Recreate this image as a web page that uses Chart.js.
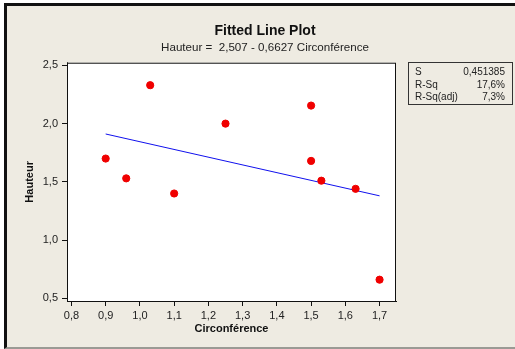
<!DOCTYPE html>
<html>
<head>
<meta charset="utf-8">
<script src="https://cdn.jsdelivr.net/npm/chart.js@4"></script>
<style>
  body { margin: 0; background: #fff; }
  #wrap { position: relative; width: 515px; height: 349px; overflow: hidden; }
  #frame {
    position: absolute; left: 4px; top: 3px; right: -4px; bottom: 0;
    background: #eeebe2;
    border-top: 3px solid #111; border-left: 3px solid #111; border-bottom: 2px solid #9a9a94;
  }
  #chart { position: absolute; left: 0; top: 0; }
  #stats {
    position: absolute; left: 408px; top: 62px; width: 103px; height: 41px;
    border: 1px solid #333; font: 10px "Liberation Sans", Arial, sans-serif; color: #222;
  }
  #stats div { display: flex; justify-content: space-between; padding: 0 7px 0 6px; height: 12.5px; line-height: 12.5px; }
  #stats div:first-child { margin-top: 3px; }
</style>
</head>
<body>
<div id="wrap">
  <div id="frame"></div>
  <canvas id="chart" width="515" height="349"></canvas>
  <div id="stats">
    <div><span>S</span><span>0,451385</span></div>
    <div><span>R-Sq</span><span>17,6%</span></div>
    <div><span>R-Sq(adj)</span><span>7,3%</span></div>
  </div>
</div>
<script>
// Data
const circonference = [0.90, 0.96, 1.03, 1.10, 1.25, 1.50, 1.50, 1.53, 1.63, 1.70];
const hauteur = [1.70, 1.53, 2.33, 1.40, 2.00, 2.155, 1.68, 1.51, 1.44, 0.66];

// Fitted line end points (Hauteur = 2,507 - 0,6627 Circonférence)
const fitX = [0.9, 1.7];
const fitY = [1.911, 1.380];

const comma = v => v.toFixed(1).replace('.', ',');
const fontName = '"Liberation Sans", Arial, sans-serif';

// white plot area with a box round it
const plotBox = {
  id: 'plotBox',
  beforeDatasetsDraw(chart) {
    const a = chart.chartArea;
    chart.ctx.save();
    chart.ctx.fillStyle = '#fff';
    chart.ctx.fillRect(a.left, a.top, a.right - a.left, a.bottom - a.top);
    chart.ctx.restore();
  },
  afterDraw(chart) {
    const a = chart.chartArea;
    const ctx = chart.ctx;
    ctx.save();
    ctx.strokeStyle = '#111';
    ctx.lineWidth = 1;
    ctx.strokeRect(a.left + 0.5, a.top + 0.5, a.right - a.left - 1, a.bottom - a.top);
    ctx.restore();
  }
};

new Chart(document.getElementById('chart'), {
  type: 'scatter',
  data: {
    datasets: [
      {
        data: circonference.map((x, i) => ({ x, y: hauteur[i] })),
        backgroundColor: '#f00000',
        borderColor: '#f00000',
        pointRadius: 3.6,
        pointHoverRadius: 3.6,
        order: 1
      },
      {
        type: 'line',
        data: fitX.map((x, i) => ({ x, y: fitY[i] })),
        borderColor: '#1010ee',
        borderWidth: 1,
        pointRadius: 0,
        fill: false,
        order: 2
      }
    ]
  },
  plugins: [plotBox],
  options: {
    responsive: false,
    animation: false,
    layout: { padding: { left: 15, right: 0, top: 0, bottom: 0 } },
    plugins: {
      legend: { display: false },
      tooltip: { enabled: false },
      title: {
        display: true,
        text: 'Fitted Line Plot',
        color: '#111',
        font: { family: fontName, size: 14, weight: 'bold' },
        padding: { top: 23, bottom: 0 }
      },
      subtitle: {
        display: true,
        text: 'Hauteur =  2,507 - 0,6627 Circonférence',
        color: '#222',
        font: { family: fontName, size: 11.6 },
        padding: { top: 1, bottom: 8 }
      }
    },
    scales: {
      x: {
        type: 'linear',
        min: 0.787,
        max: 1.748,
        afterFit(s) { s.height = 48; },
        ticks: {
          stepSize: 0.1,
          includeBounds: false,
          color: '#222',
          font: { family: fontName, size: 11 },
          padding: 3,
          callback: v => comma(v)
        },
        grid: { drawOnChartArea: false, drawTicks: true, tickLength: 5, color: '#111' },
        border: { display: true, color: '#111' },
        title: {
          display: true,
          text: 'Circonférence',
          color: '#111',
          font: { family: fontName, size: 11, weight: 'bold' },
          padding: { top: 4, bottom: 13 }
        }
      },
      y: {
        min: 0.477,
        max: 2.523,
        afterFit(s) { s.width = 52; },
        ticks: {
          stepSize: 0.5,
          includeBounds: false,
          color: '#222',
          font: { family: fontName, size: 11 },
          padding: 4,
          callback: v => comma(v)
        },
        grid: { drawOnChartArea: false, drawTicks: true, tickLength: 5, color: '#111' },
        border: { display: true, color: '#111' },
        title: {
          display: true,
          text: 'Hauteur',
          color: '#111',
          font: { family: fontName, size: 11, weight: 'bold' },
          padding: { top: 8, bottom: 4 }
        }
      },
      // empty right-hand axis that keeps room for the stats box
      side: {
        position: 'right',
        display: true,
        afterFit(s) { s.width = 119; },
        ticks: { display: false },
        grid: { display: false },
        border: { display: false }
      }
    }
  }
});
</script>
</body>
</html>
